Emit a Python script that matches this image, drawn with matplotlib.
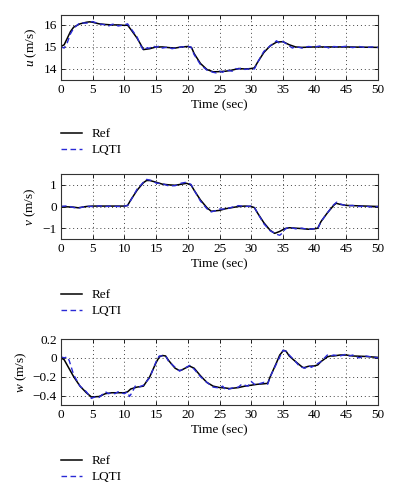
import matplotlib
matplotlib.use("Agg")
import matplotlib.pyplot as plt
import numpy as np

plt.rcParams['font.family'] = ['Liberation Serif', 'DejaVu Serif']
plt.rcParams['mathtext.fontset'] = 'custom'
plt.rcParams['mathtext.rm'] = 'Liberation Serif'
plt.rcParams['mathtext.it'] = 'Liberation Serif:italic'

# ---------------- data ----------------
u_ref_t = [0, 0.5, 1, 1.5, 2, 3, 4, 4.5, 5, 6, 7, 8, 9, 10, 10.5, 11, 12, 12.5, 13, 14, 15, 16, 17, 18, 19, 20, 20.6,
           21, 22, 23, 24, 25, 26, 27, 28, 29, 30, 30.5, 31, 32, 33, 34, 35, 36, 37, 38, 40, 42, 45, 50]
u_ref = [15.02, 15.1, 15.4, 15.7, 15.9, 16.05, 16.12, 16.14, 16.12, 16.05, 16.02, 16.0, 16.0, 15.98, 15.99, 15.8, 15.4,
         15.15, 14.88, 14.92, 15.0, 15.0, 14.97, 14.95, 15.0, 15.02, 14.97,
         14.7, 14.25, 13.98, 13.87, 13.88, 13.9, 13.95, 14.02, 14.0, 14.02, 14.05, 14.3, 14.75, 15.05, 15.22, 15.24, 15.1,
         15.0, 14.98, 15.0, 15.0, 15.0, 14.98]
u_lq_t = [0, 0.5, 1, 1.5, 2, 3, 4, 5, 6, 7, 7.5, 8, 8.5, 9, 10, 10.5, 11, 12, 12.5, 13, 13.5, 14, 14.5, 15, 15.5, 16, 17,
          17.5, 18, 19, 20, 20.5, 21, 22, 23, 24, 24.5, 25, 25.5, 26, 27, 27.5, 28, 28.5, 29, 30, 30.5, 31, 32, 33, 34,
          34.5, 35, 36, 36.5, 37, 38, 39, 40, 41, 42, 42.5, 43, 44, 45, 46, 47, 48, 49, 50]
u_lq = [15.0, 14.95, 15.2, 15.6, 15.85, 16.1, 16.08, 16.15, 16.05, 16.0, 15.95, 16.02, 16.05, 15.95, 16.0, 16.05, 15.85,
        15.45, 15.1, 14.85, 14.95, 14.95, 15.05, 14.98, 15.05, 14.95, 15.0, 14.92, 14.95, 15.0, 15.02, 15.0, 14.65, 14.2,
        13.95, 13.85, 13.82, 13.9, 13.85, 13.95, 13.9, 14.02, 14.0, 14.05, 13.98, 14.02, 14.0, 14.3, 14.8, 15.05, 15.28,
        15.15, 15.25, 15.05, 14.95, 15.02, 14.95, 15.02, 15.0, 15.05, 14.98, 14.93, 15.02, 15.0, 15.03, 14.97, 15.02,
        14.97, 15.0, 14.98]

v_ref_t = [0, 2, 2.7, 4, 5, 7, 10, 10.5, 11, 12, 13, 13.5, 14, 15, 16, 17, 18, 19, 19.8, 20.5, 21, 22, 23, 23.7, 25, 26,
           27, 28, 29, 30, 30.5, 31, 32, 33, 33.7, 34.5, 35.3, 36, 37, 38, 39, 40, 40.5, 41, 42, 43, 43.4, 44, 45, 47, 50]
v_ref = [0.0, -0.03, -0.06, 0.0, 0.02, 0.02, 0.02, 0.05, 0.3, 0.75, 1.1, 1.2, 1.2, 1.12, 1.03, 1.0, 0.98, 1.03, 1.07,
         1.0, 0.75, 0.3, -0.05, -0.22, -0.18, -0.1, -0.05, 0.0, 0.02, 0.0, -0.05, -0.3, -0.75, -1.1, -1.24, -1.15, -1.02,
         -0.98, -1.0, -1.02, -1.05, -1.03, -1.0, -0.7, -0.3, 0.05, 0.15, 0.1, 0.05, 0.03, 0.0]
v_lq_t = [0, 1, 2, 2.7, 3.5, 4, 5, 6, 7, 8, 9, 10, 10.5, 11, 12, 13, 13.5, 14, 14.5, 15, 16, 17, 18, 19, 19.8, 20.5, 21,
          22, 23, 23.7, 24.5, 25, 26, 27, 28, 29, 30, 30.5, 31, 32, 33, 34, 34.5, 35, 35.3, 36, 37, 38, 39, 40, 40.5, 41,
          42, 43, 43.5, 44, 45, 46, 47, 48, 49, 50]
v_lq = [0.0, 0.03, -0.05, -0.08, -0.02, 0.01, 0.0, 0.03, 0.0, 0.02, 0.0, 0.02, 0.04, 0.28, 0.8, 1.12, 1.25, 1.22, 1.18,
        1.08, 1.05, 0.95, 0.96, 1.08, 1.12, 1.02, 0.75, 0.25, -0.1, -0.25, -0.18, -0.12, -0.12, -0.03, 0.04, 0.0, 0.02,
        -0.04, -0.3, -0.8, -1.12, -1.28, -1.33, -1.2, -1.05, -0.95, -1.03, -1.0, -1.06, -1.02, -1.02, -0.7, -0.3, 0.08,
        0.2, 0.12, 0.03, 0.05, 0.0, 0.02, -0.03, 0.0]

w_ref_t = [0, 0.5, 1, 2, 3, 4, 4.8, 6, 7, 8, 9, 10, 10.5, 11, 12, 13, 14, 15, 15.5, 16, 16.5, 17, 18, 18.7, 19, 20, 20.3,
           21, 22, 23, 24, 25, 26, 26.6, 28, 29, 30, 31, 32, 32.6, 33, 34, 34.5, 35.1, 35.5, 36, 37, 38, 38.3, 39, 40,
           40.5, 41, 42, 42.5, 43, 44, 45, 46, 48, 50]
w_ref = [0.0, -0.02, -0.08, -0.2, -0.3, -0.37, -0.415, -0.41, -0.38, -0.37, -0.37, -0.37, -0.36, -0.33, -0.31, -0.3,
         -0.2, -0.05, 0.01, 0.025, 0.02, -0.03, -0.11, -0.135, -0.13, -0.095, -0.088, -0.11, -0.19, -0.26, -0.3, -0.315,
         -0.32, -0.326, -0.315, -0.3, -0.29, -0.28, -0.275, -0.27, -0.2, -0.05, 0.03, 0.08, 0.07, 0.02, -0.04, -0.095,
         -0.105, -0.09, -0.085, -0.075, -0.04, 0.01, 0.02, 0.02, 0.03, 0.03, 0.02, 0.015, 0.005]
w_lq_t = [0, 0.5, 1, 1.3, 2, 3, 4, 4.8, 5.5, 6, 6.5, 7, 7.5, 8, 8.5, 9, 9.5, 10, 10.5, 10.8, 11.2, 11.7, 12.3, 13, 14, 15,
          15.5, 16, 16.5, 17, 18, 18.7, 19.5, 20.3, 21, 22, 23, 24, 25, 25.5, 26, 27, 28, 28.5, 29.5, 30, 30.5, 31, 32,
          32.6, 33, 34, 35, 35.5, 36, 37, 37.5, 38, 38.5, 39, 39.5, 40, 41, 42, 42.5, 43, 44, 45, 45.5, 46, 47, 48, 49, 50]
w_lq = [0.01, 0.0, 0.01, -0.03, -0.18, -0.3, -0.36, -0.43, -0.41, -0.42, -0.39, -0.36, -0.38, -0.37, -0.38, -0.36, -0.37,
        -0.38, -0.36, -0.41, -0.37, -0.3, -0.31, -0.29, -0.21, -0.04, 0.02, 0.02, 0.02, -0.04, -0.1, -0.14, -0.11,
        -0.08, -0.12, -0.2, -0.26, -0.31, -0.32, -0.3, -0.34, -0.32, -0.31, -0.28, -0.3, -0.25, -0.28, -0.28, -0.26,
        -0.28, -0.2, -0.06, 0.08, 0.07, 0.03, -0.04, -0.08, -0.1, -0.11, -0.08, -0.1, -0.08, -0.04, 0.03, 0.02, 0.03,
        0.02, 0.04, 0.02, 0.03, 0.0, 0.02, 0.01, 0.0]

panels = [
    dict(t_ref=u_ref_t, y_ref=u_ref, t_lq=u_lq_t, y_lq=u_lq, ylim=(13.5, 16.45), yticks=[14, 15, 16],
         ylabel='$u$ (m/s)'),
    dict(t_ref=v_ref_t, y_ref=v_ref, t_lq=v_lq_t, y_lq=v_lq, ylim=(-1.5, 1.5), yticks=[-1, 0, 1],
         ylabel='$v$ (m/s)'),
    dict(t_ref=w_ref_t, y_ref=w_ref, t_lq=w_lq_t, y_lq=w_lq, ylim=(-0.5, 0.2), yticks=[-0.4, -0.2, 0, 0.2],
         ylabel='$w$ (m/s)'),
]
xticks = [0, 5, 10, 15, 20, 25, 30, 35, 40, 45, 50]

W, H = 398, 500
fig = plt.figure(figsize=(W / 100, H / 100), dpi=100)

# pixel boxes (left, top, right, bottom)
boxes = [(61, 15, 378, 80), (61, 174, 378, 239), (61, 339, 378, 405)]
legend_tops = [128, 289, 455]
fs = 9.5

for p, box, ltop in zip(panels, boxes, legend_tops):
    l, t, r, b = box
    ax = fig.add_axes([l / W, 1 - b / H, (r - l) / W, (b - t) / H])
    ax.plot(p['t_ref'], p['y_ref'], color='black', lw=1.1, label='Ref')
    ax.plot(p['t_lq'], p['y_lq'], color='#2a2ad6', lw=1.0, ls=(0, (4, 2.5)), label='LQTI')
    ax.set_xlim(0, 50)
    ax.set_ylim(*p['ylim'])
    ax.set_xticks(xticks)
    ax.set_yticks(p['yticks'])
    if p['yticks'][0] == -0.4:
        ax.set_yticklabels(['\u22120.4', '\u22120.2', '0', '0.2'])
    ax.grid(True, color='#444444', ls=(0, (1, 3)), lw=0.7)
    ax.tick_params(direction='in', top=True, right=True, length=3, width=0.6, labelsize=fs, pad=3)
    for s in ax.spines.values():
        s.set_linewidth(0.8)
        s.set_color('#333333')
    ax.set_xlabel('Time (sec)', fontsize=fs, labelpad=2)
    ax.set_ylabel(p['ylabel'], fontsize=fs, labelpad=3)
    h, lab = ax.get_legend_handles_labels()
    fig.legend(h, lab, loc='upper left', bbox_to_anchor=(61 / W, 1 - ltop / H), frameon=False,
               fontsize=fs, handlelength=1.6, handletextpad=0.75, labelspacing=0.3, borderpad=0,
               borderaxespad=0)

fig.savefig('out.png', dpi=100)
